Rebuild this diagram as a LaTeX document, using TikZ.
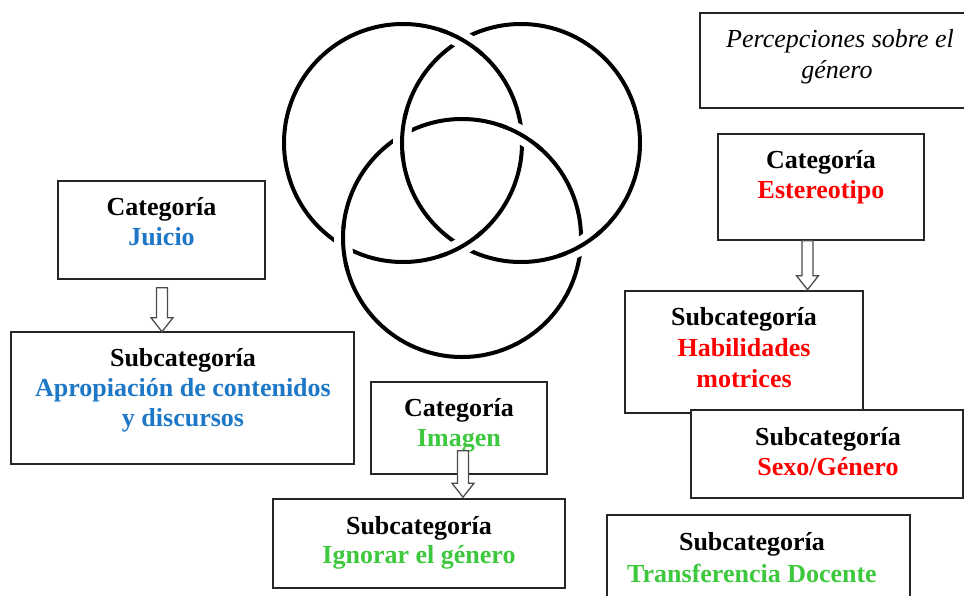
\documentclass[tikz,border=0pt]{standalone}
\usepackage{fontspec}
\setmainfont{Liberation Serif}
\usetikzlibrary{calc}
\definecolor{jblue}{RGB}{30,120,200}
\definecolor{igreen}{RGB}{62,200,62}
\definecolor{sred}{RGB}{255,0,0}
\newcommand\blockarrow[2]{%
  \draw[arrowstyle] ($(#1)+(-5.5,0)$) -- ($(#2)+(-5.5,-14)$) -- ($(#2)+(-11,-14)$) -- (#2)
    -- ($(#2)+(11,-14)$) -- ($(#2)+(5.5,-14)$) -- ($(#1)+(5.5,0)$) -- cycle;}
\begin{document}
\begin{tikzpicture}[x=1pt,y=-1pt,
  box/.style={draw=black!85, line width=1.6pt, fill=white, rectangle, inner sep=0pt},
  txt/.style={font=\fontsize{26}{30}\selectfont\bfseries, anchor=base, inner sep=0pt},
  ptxt/.style={font=\fontsize{26}{30}\selectfont\itshape, anchor=base, inner sep=0pt},
  ring/.style={line width=4pt, black},
  gapring/.style={line width=18pt, white},
  arrowstyle/.style={draw=black!70, fill=white, line width=1.3pt, line join=miter}]
\useasboundingbox (0,0) rectangle (964,595);
\clip (0,0) rectangle (964,595);

% Borromean rings
\coordinate (L) at (403,143);
\coordinate (R) at (521,143);
\coordinate (B) at (462,238);
\foreach \c in {L,R,B} {\draw[ring] (\c) circle[radius=119];}
\foreach \c/\a in {L/-60.3, L/60.3, B/176.2, B/-59.8, R/59.8, R/183.8} {
  \draw[gapring] (\c) ++({\a-8}:119) arc[start angle={\a-8}, end angle={\a+8}, radius=119];
  \draw[ring] (\c) ++({\a-12}:119) arc[start angle={\a-12}, end angle={\a+12}, radius=119];
}

% boxes
\node[box, minimum width=278, minimum height=95] (perc) at (839,60.5) {};
\node[box, minimum width=206, minimum height=106] (ester) at (821,187) {};
\node[box, minimum width=238, minimum height=122] (habil) at (744,352) {};
\node[box, minimum width=272, minimum height=88] (sexo) at (827,454) {};
\node[box, minimum width=303, minimum height=95] (transf) at (758.5,562.5) {};
\node[box, minimum width=207, minimum height=98] (juicio) at (161.5,230) {};
\node[box, minimum width=343, minimum height=132] (apro) at (182.5,398) {};
\node[box, minimum width=176, minimum height=92] (imagen) at (459,428) {};
\node[box, minimum width=292, minimum height=89] (ignorar) at (419,543.5) {};

% texts
\node[ptxt] (p1) at (840,47) {Percepciones sobre el};
\node[ptxt] (p2) at (837,78) {género};

\node[txt] (e1) at (821,168) {Categoría};
\node[txt, text=sred] (e2) at (821,198) {Estereotipo};

\node[txt] (h1) at (744,325) {Subcategoría};
\node[txt, text=sred] (h2) at (744,356) {Habilidades};
\node[txt, text=sred] (h3) at (744,387) {motrices};

\node[txt] (s1) at (828,445) {Subcategoría};
\node[txt, text=sred] (s2) at (828,475) {Sexo/Género};

\node[txt] (t1) at (752,550) {Subcategoría};
\node[txt, text=igreen] (t2) at (752,582) {Transferencia Docente};

\node[txt] (j1) at (161.5,215) {Categoría};
\node[txt, text=jblue] (j2) at (161.5,245) {Juicio};

\node[txt] (a1) at (183,366) {Subcategoría};
\node[txt, text=jblue] (a2) at (183,396) {Apropiación de contenidos};
\node[txt, text=jblue] (a3) at (183,426) {y discursos};

\node[txt] (i1) at (459,416) {Categoría};
\node[txt, text=igreen] (i2) at (459,446) {Imagen};

\node[txt] (g1) at (419,534) {Subcategoría};
\node[txt, text=igreen] (g2) at (419,563) {Ignorar el género};

% block arrows
\coordinate (ar1s) at ($(juicio.south)+(0.5,8)$);
\coordinate (ar1e) at ($(apro.north)+(-20.5,0.5)$);
\coordinate (ar2s) at ($(ester.south)+(-13.5,0)$);
\coordinate (ar2e) at ($(habil.north)+(63.5,-0.5)$);
\coordinate (ar3s) at ($(imagen.south)+(4,-24)$);
\coordinate (ar3e) at ($(ignorar.north)+(44,-1)$);
\blockarrow{ar1s}{ar1e}
\blockarrow{ar2s}{ar2e}
\blockarrow{ar3s}{ar3e}
\end{tikzpicture}
\end{document}
